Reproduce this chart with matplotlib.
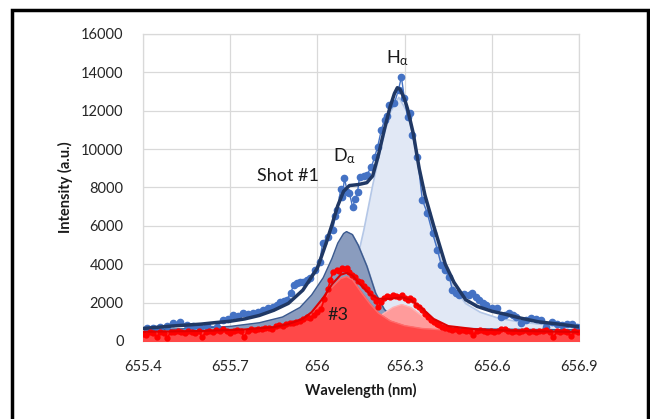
import numpy as np
import matplotlib
matplotlib.use("Agg")
import matplotlib.pyplot as plt
from matplotlib.patches import Rectangle

plt.rcParams['font.family'] = ['Lato', 'DejaVu Sans']

# ---- fits, shot #1 ----
wl_fit1 = [655.40, 655.50, 655.60, 655.65, 655.70, 655.75, 655.80, 655.85, 655.90, 655.95,
           656.00, 656.03, 656.05, 656.07, 656.09, 656.11, 656.14, 656.17, 656.19, 656.21,
           656.23, 656.25, 656.265, 656.275, 656.285, 656.30, 656.31, 656.33, 656.35, 656.37,
           656.40, 656.44, 656.47, 656.51, 656.55, 656.60, 656.65, 656.70, 656.76, 656.83,
           656.90]
fit1 = [650, 780, 880, 960, 1030, 1150, 1330, 1600, 1960, 2650,
        3800, 5100, 6050, 7050, 7800, 8100, 8150, 8250, 8600, 9700,
        11000, 12200, 12900, 13200, 13100, 12600, 12100, 10800, 9000, 7600,
        6000, 4000, 3050, 2150, 1800, 1550, 1380, 1190, 1000, 880,
        740]

wl_d1 = [655.40, 655.55, 655.70, 655.80, 655.88, 655.94, 655.98, 656.02, 656.05, 656.07,
         656.09, 656.10, 656.12, 656.14, 656.17, 656.20, 656.23, 656.26, 656.30, 656.36,
         656.45, 656.60, 656.90]
d1 = [560, 640, 760, 950, 1250, 1750, 2400, 3300, 4300, 5100,
      5600, 5700, 5550, 5000, 3900, 2500, 1650, 1200, 950, 780,
      680, 620, 580]

wl_h1 = [655.40, 655.60, 655.80, 655.90, 656.00, 656.05, 656.10, 656.13, 656.16, 656.19,
         656.22, 656.25, 656.28, 656.31, 656.34, 656.37, 656.40, 656.43, 656.47, 656.51,
         656.56, 656.62, 656.70, 656.80, 656.90]
h1 = [600, 650, 750, 850, 1100, 1500, 2300, 3800, 5800, 8100,
      10200, 11900, 12700, 11900, 9900, 7500, 5500, 3950, 2750, 1950,
      1500, 1200, 980, 820, 720]

# ---- fits, shot #3 ----
wl_fit3 = [655.40, 655.60, 655.75, 655.85, 655.90, 655.95, 655.98, 656.02, 656.05, 656.08,
           656.10, 656.12, 656.15, 656.18, 656.21, 656.25, 656.29, 656.32, 656.36, 656.40,
           656.45, 656.55, 656.70, 656.90]
fit3 = [480, 520, 600, 720, 880, 1150, 1500, 2250, 2950, 3450,
        3550, 3420, 2900, 2450, 2200, 2200, 2280, 2150, 1700, 1150,
        780, 600, 520, 470]

wl_d3 = [655.40, 655.60, 655.75, 655.85, 655.90, 655.95, 655.98, 656.02, 656.05, 656.08,
         656.10, 656.12, 656.15, 656.18, 656.21, 656.25, 656.30, 656.36, 656.45, 656.60,
         656.90]
d3 = [450, 480, 540, 650, 800, 1050, 1400, 2100, 2800, 3250,
      3350, 3200, 2550, 1950, 1450, 1050, 800, 650, 560, 500,
      450]

wl_h3 = [655.40, 655.90, 656.10, 656.18, 656.22, 656.26, 656.29, 656.32, 656.36, 656.40,
         656.45, 656.55, 656.90]
h3 = [420, 470, 600, 900, 1350, 1750, 1900, 1750, 1300, 900,
      650, 520, 430]

# ---- measured points ----
wl_meas1 = [655.414, 655.434, 655.458, 655.482, 655.503, 655.527, 655.551, 655.572, 655.596, 655.620,
            655.654, 655.675, 655.692, 655.709, 655.726, 655.743, 655.760, 655.778, 655.795, 655.812,
            655.829, 655.846, 655.860, 655.870, 655.884, 655.894, 655.908, 655.918, 655.929, 655.939,
            655.949, 655.963, 655.973, 655.990, 656.008, 656.018, 656.035, 656.052, 656.062, 656.069,
            656.080, 656.086, 656.093, 656.103, 656.110, 656.121, 656.131, 656.138, 656.145, 656.159,
            656.169, 656.186, 656.197, 656.207, 656.220, 656.231, 656.241, 656.248, 656.265, 656.279,
            656.289, 656.299, 656.310, 656.317, 656.327, 656.344, 656.361, 656.378, 656.396, 656.413,
            656.426, 656.440, 656.454, 656.464, 656.478, 656.488, 656.505, 656.522, 656.532, 656.546,
            656.557, 656.571, 656.581, 656.602, 656.619, 656.632, 656.646, 656.660, 656.674, 656.684,
            656.701, 656.718, 656.735, 656.753, 656.770, 656.787, 656.808, 656.825, 656.842, 656.859,
            656.876, 656.893]
meas1 = [680, 700, 730, 800, 940, 990, 830, 760, 730, 780,
         730, 1090, 1150, 1350, 1300, 1460, 1420, 1460, 1520, 1610,
         1700, 1770, 1900, 2030, 2100, 2140, 2500, 2900, 3020, 3050,
         3070, 3200, 3280, 3700, 4120, 5100, 5420, 5780, 6500, 6830,
         7900, 7500, 8490, 7760, 7710, 7000, 7400, 7760, 8550, 8600,
         8650, 9070, 9600, 10110, 11000, 11520, 11700, 12300, 12400, 13100,
         13760, 12660, 11670, 11900, 10730, 9590, 7350, 6670, 5630, 4740,
         3960, 3700, 3340, 2660, 2500, 2400, 2450, 2400, 2500, 2300,
         2140, 2000, 1880, 1720, 1720, 1250, 1350, 1460, 1350, 1250,
         940, 1100, 1200, 1150, 1090, 730, 990, 900, 830, 870,
         885, 730]

wl_meas3 = [655.400, 655.412, 655.424, 655.436, 655.448, 655.460, 655.472, 655.484, 655.496, 655.508,
            655.520, 655.532, 655.544, 655.556, 655.568, 655.580, 655.592, 655.604, 655.616, 655.628,
            655.640, 655.652, 655.664, 655.676, 655.688, 655.700, 655.712, 655.724, 655.736, 655.748,
            655.760, 655.772, 655.784, 655.796, 655.808, 655.820, 655.832, 655.844, 655.856, 655.868,
            655.880, 655.892, 655.904, 655.916, 655.928, 655.940, 655.952, 655.964, 655.976, 655.988,
            656.000, 656.012, 656.024, 656.036, 656.045, 656.054, 656.066, 656.075, 656.084, 656.093,
            656.102, 656.110, 656.120, 656.130, 656.140, 656.150, 656.160, 656.170, 656.180, 656.190,
            656.200, 656.210, 656.220, 656.230, 656.240, 656.250, 656.260, 656.270, 656.280, 656.290,
            656.300, 656.310, 656.320, 656.330, 656.340, 656.350, 656.360, 656.370, 656.380, 656.390,
            656.400, 656.410, 656.420, 656.430, 656.440, 656.452, 656.464, 656.476, 656.488, 656.500,
            656.512, 656.524, 656.536, 656.548, 656.560, 656.572, 656.584, 656.596, 656.608, 656.620,
            656.632, 656.644, 656.656, 656.668, 656.680, 656.692, 656.704, 656.716, 656.728, 656.740,
            656.752, 656.764, 656.776, 656.788, 656.800, 656.812, 656.824, 656.836, 656.848, 656.860,
            656.872, 656.884, 656.896]
meas3 = [380, 300, 450, 420, 200, 460, 430, 180, 480, 450,
         500, 470, 430, 520, 480, 440, 500, 200, 470, 520,
         480, 560, 500, 620, 540, 420, 500, 580, 520, 200,
         540, 600, 560, 640, 620, 680, 700, 650, 760, 820,
         780, 900, 940, 960, 1000, 1050, 1150, 1250, 1200, 1350,
         1500, 1650, 2200, 2700, 3180, 3600, 3700, 3650, 3800, 3750,
         3800, 3600, 3450, 3340, 3150, 3070, 2850, 2700, 2500, 2290,
         2100, 1770, 2050, 2240, 2350, 2300, 2400, 2350, 2300, 2380,
         2250, 2140, 2240, 2150, 1880, 1750, 1610, 1400, 1250, 1100,
         990, 900, 830, 730, 680, 620, 580, 600, 540, 570,
         520, 500, 300, 520, 560, 500, 470, 520, 480, 500,
         640, 600, 540, 480, 520, 470, 500, 560, 480, 500,
         450, 540, 520, 560, 480, 200, 500, 470, 520, 480,
         240, 500, 460]

fig = plt.figure(figsize=(6.5, 4.19), dpi=100)
ax = fig.add_axes([0.22, 0.1862, 0.6708, 0.7327])

# component fills
ax.fill_between(wl_h1, 0, h1, color='#E1E8F5', zorder=1)
ax.plot(wl_h1, h1, color='#B4C7E7', lw=1.2, zorder=1.1)
ax.fill_between(wl_d1, 0, d1, color='#8A9CBE', zorder=2)
ax.plot(wl_d1, d1, color='#3B5A8F', lw=1.0, zorder=2.1)
ax.fill_between(wl_h3, 0, h3, color='#FF9B9B', zorder=3)
ax.plot(wl_h3, h3, color='#FFB3B3', lw=1.0, zorder=3.1)
ax.fill_between(wl_d3, 0, d3, color='#FF4848', zorder=4)
ax.plot(wl_d3, d3, color='#FF6A6A', lw=1.0, zorder=4.1)

# shot #1
ax.plot(wl_meas1, meas1, '-o', color='#4472C4', lw=1.0, ms=4.5, mec='#4472C4', zorder=5)
ax.plot(wl_fit1, fit1, color='#203864', lw=2.5, zorder=6)

# shot #3
ax.plot(wl_meas3, meas3, '-o', color='#FF0000', lw=1.2, ms=3.5, zorder=7)
ax.plot(wl_fit3, fit3, color='#E00000', lw=1.5, zorder=8)

ax.set_xlim(655.4, 656.9)
ax.set_ylim(0, 16000)
ax.set_xticks([655.4, 655.7, 656.0, 656.3, 656.6, 656.9])
ax.set_xticklabels(['655.4', '655.7', '656', '656.3', '656.6', '656.9'])
ax.set_yticks(range(0, 16001, 2000))
ax.tick_params(length=0, labelsize=10.5, colors='#262626')
ax.tick_params(axis='x', pad=14)
ax.tick_params(axis='y', pad=14)
ax.grid(True, color='#D9D9D9', lw=0.9)
ax.set_axisbelow(True)
for s in ax.spines.values():
    s.set_color('#D9D9D9')
    s.set_linewidth(0.9)

ax.set_xlabel('Wavelength (nm)', fontsize=10.5, fontweight='bold', color='#1a1a1a', labelpad=6)
ax.set_ylabel('Intensity (a.u.)', fontsize=10.5, fontweight='bold', color='#1a1a1a', labelpad=6)

ax.text(656.275, 14750, r'$\mathregular{H_{\alpha}}$', fontsize=13, ha='center', va='center', color='#1a1a1a', zorder=10)
ax.text(656.092, 9650, r'$\mathregular{D_{\alpha}}$', fontsize=13, ha='center', va='center', color='#1a1a1a', zorder=10)
ax.text(655.90, 8600, 'Shot #1', fontsize=13, ha='center', va='center', color='#1a1a1a', zorder=10)
ax.text(656.07, 1350, '#3', fontsize=13, ha='center', va='center', color='#1a1a1a', zorder=10)

# outer frame
fig.patches.append(Rectangle((12 / 650, -0.1), 636 / 650, 1 - 10 / 419 + 0.1,
                             transform=fig.transFigure, fill=False, lw=2.5, ec='black'))

fig.savefig('out.png', dpi=100)
